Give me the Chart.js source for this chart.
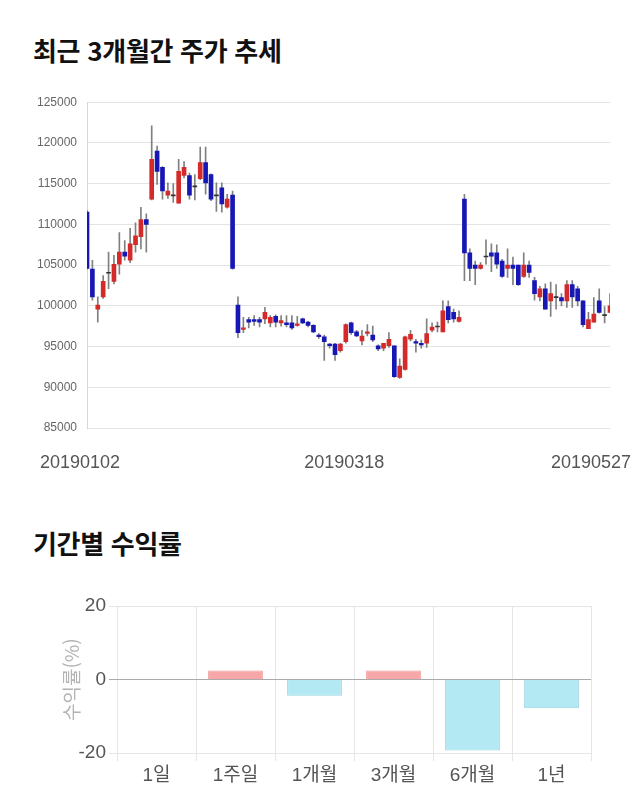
<!DOCTYPE html>
<html lang="ko">
<head>
<meta charset="utf-8">
<script src="https://cdn.jsdelivr.net/npm/chart.js@4/dist/chart.umd.min.js"></script>
<style>
  body { margin: 0; background: #fff; width: 640px; height: 810px; position: relative; overflow: hidden; }
  .title { position: absolute; left: 33px; font: bold 26px 'Noto Sans CJK KR', sans-serif; color: #111; line-height: 26px; letter-spacing: -0.3px; }
  .box { position: absolute; left: 0; width: 640px; }
</style>
</head>
<body>
<div class="title" style="top:37px">최근 3개월간 주가 추세</div>
<div class="box" style="top:85px;height:400px"><canvas id="price-chart"></canvas></div>
<div class="title" style="top:530px">기간별 수익률</div>
<div class="box" style="top:585px;height:215px"><canvas id="return-chart"></canvas></div>
<script>
const dates = [
  '20190102','20190103','20190104','20190107','20190108','20190109','20190110','20190111',
  '20190114','20190115','20190116','20190117','20190118','20190121','20190122','20190123',
  '20190124','20190125','20190128','20190129','20190130','20190131',
  '20190201','20190207','20190208','20190211','20190212','20190213','20190214','20190215',
  '20190218','20190219','20190220','20190221','20190222','20190225','20190226','20190227','20190228',
  '20190304','20190305','20190306','20190307','20190308','20190311','20190312','20190313',
  '20190314','20190315','20190318','20190319','20190320','20190321','20190322','20190325',
  '20190326','20190327','20190328','20190329',
  '20190401','20190402','20190403','20190404','20190405','20190408','20190409','20190410',
  '20190411','20190412','20190415','20190416','20190417','20190418','20190419','20190422',
  '20190423','20190424','20190425','20190426','20190429','20190430',
  '20190502','20190503','20190507','20190508','20190509','20190510','20190513','20190514',
  '20190515','20190516','20190517','20190520','20190521','20190522','20190523','20190524','20190527'
];
const opens = [
  111500,104500,99600,101100,104000,103000,105100,106600,105600,107500,108500,110600,
  113100,119000,117000,113600,113500,112600,116000,116000,114600,115600,
  117600,116100,113500,114500,112100,113600,100100,97100,98300,98300,98300,98400,
  97900,98700,97900,97900,97900,97600,98400,98000,97600,96400,96200,95300,95300,
  94500,95600,97900,96800,95700,96600,96400,95100,94800,95100,95100,91200,92200,
  95900,95600,95400,95400,97000,97400,96800,99900,99200,98100,113100,106500,105000,
  104600,106000,106500,106500,105500,104600,105000,105000,103600,105000,103100,101100,
  102100,100600,101000,101000,100600,102600,102100,100600,97200,98000,100600,98800,99200
];
const highs = [
  111700,105600,101100,103700,106600,106200,109000,108000,109500,110200,112100,111300,
  122100,119600,117100,115100,115000,118000,117700,116300,116100,119500,
  119500,116200,115100,115100,113700,114100,101100,98600,98600,98800,98600,99800,
  98800,98900,98800,98800,98800,98700,98500,98100,97700,96600,96400,95400,95400,
  95400,97800,98000,97000,97000,97700,97500,95200,95400,96700,95100,93500,96300,
  97000,95900,95800,98400,97900,98000,100600,100600,99600,99400,113700,107000,105500,
  105300,108100,107600,107500,105700,107000,106000,105000,106500,105500,103500,102400,
  102700,102900,102600,101500,103100,103100,102400,100600,99200,101000,102100,99900,101500
];
const lows = [
  104500,100700,98000,100900,102100,102700,103900,105600,105300,106600,107000,106600,
  113000,114900,113100,113200,112700,112600,115700,113100,113000,115500,
  113700,112900,111600,111500,112000,104500,96100,96700,97300,97600,97400,97800,
  97400,97400,97500,97400,97100,97500,97800,97400,96700,96000,93300,94800,93300,
  94300,95400,96500,96200,95200,96300,95600,94500,94500,94900,91200,91100,92100,
  95700,94300,94800,94900,96800,96800,96800,97900,98000,98000,103100,103100,102600,
  104500,105100,104200,104600,103500,103500,102600,102500,103500,103500,100700,100600,
  99600,98700,99600,100000,99800,99800,100000,97400,97200,98000,99100,97900,99200
];
const closes = [
  104600,101100,100100,103000,104000,105100,106600,106100,107600,108600,110600,110000,
  118000,116500,114100,114100,113500,116500,117000,113600,114600,117600,
  115100,113100,113500,112500,113100,104600,96700,97300,98000,98100,98000,99200,
  98600,98000,98200,97700,97300,97800,97900,97600,96800,96200,95600,95100,94000,
  95300,97700,96700,96300,96300,96800,95800,94700,95400,95900,91300,92600,96200,
  96500,95400,95200,96600,97400,97400,99400,98300,98400,98600,106500,104600,104600,
  105000,106000,106100,105100,103600,105000,104600,102600,105000,104100,101500,102100,
  99600,101500,101000,100600,102600,101100,100600,97700,98300,99000,99200,98800,100000
];
const dateTicks = ['20190102', '20190318', '20190527'];

const periods = ['1일', '1주일', '1개월', '3개월', '6개월', '1년'];
const returns = [0, 2.45, -4.36, 2.45, -19.3, -7.8];

const UP = '#d52a2a', DOWN = '#1717b5', FLAT = '#333';
const bodyColors = opens.map((o, i) => closes[i] > o ? UP : closes[i] < o ? DOWN : FLAT);

// date labels under the candles, last one kept inside the canvas
const dateLabels = {
  id: 'dateLabels',
  afterDraw(chart) {
    const { ctx, chartArea, scales: { x } } = chart;
    ctx.save();
    ctx.font = '18px "Liberation Sans", sans-serif';
    ctx.fillStyle = '#555';
    ctx.textBaseline = 'middle';
    ctx.textAlign = 'center';
    dateTicks.forEach(d => {
      const w = ctx.measureText(d).width;
      let px = x.getPixelForValue(dates.indexOf(d)) - 7;
      px = Math.min(px, chart.width - 9 - w / 2);
      ctx.fillText(d, px, chartArea.bottom + 35);
    });
    ctx.restore();
  }
};

new Chart(document.getElementById('price-chart'), {
  type: 'bar',
  data: {
    labels: dates,
    datasets: [{
      data: opens.map((o, i) => [o, closes[i]]),
      backgroundColor: bodyColors,
      barThickness: 4,
      minBarLength: 1,
      grouped: false
    }, {
      data: lows.map((l, i) => [l, highs[i]]),
      backgroundColor: '#808080',
      barThickness: 1,
      grouped: false
    }]
  },
  options: {
    responsive: true,
    maintainAspectRatio: false,
    animation: false,
    layout: { padding: { top: 13, right: 30, bottom: 49, left: 0 } },
    plugins: { legend: { display: false }, tooltip: { enabled: false } },
    scales: {
      x: {
        offset: false,
        grid: { display: false },
        border: { display: false },
        ticks: { display: false }
      },
      y: {
        min: 85000,
        max: 125000,
        afterFit: s => { s.width = 87; },
        grid: { color: '#e3e3e3', drawTicks: false },
        border: { display: true, color: '#d6d6d6' },
        ticks: {
          stepSize: 5000,
          padding: 10,
          color: '#666',
          font: { size: 12, family: '"Liberation Sans", sans-serif' },
          callback: v => v
        }
      }
    }
  },
  plugins: [dateLabels]
});

new Chart(document.getElementById('return-chart'), {
  type: 'bar',
  data: {
    labels: periods,
    datasets: [{
      data: returns,
      backgroundColor: returns.map(v => v >= 0 ? '#f7a7a7' : '#b2e9f3'),
      borderColor: returns.map(v => v >= 0 ? '#ee9494' : '#99d4df'),
      borderWidth: 1,
      barPercentage: 0.9,
      categoryPercentage: 0.77
    }]
  },
  options: {
    responsive: true,
    maintainAspectRatio: false,
    animation: false,
    layout: { padding: { top: 21, right: 49, bottom: 10, left: 56 } },
    plugins: { legend: { display: false }, tooltip: { enabled: false } },
    scales: {
      x: {
        grid: { color: '#e6e6e6' },
        border: { display: false },
        ticks: { color: '#555', font: { size: 19, family: '"Liberation Sans", "Noto Sans CJK KR", sans-serif' } }
      },
      y: {
        min: -20,
        max: 20,
        afterFit: s => { s.width = 61; },
        grid: { color: c => c.tick && c.tick.value === 0 ? '#aaa' : '#e6e6e6' },
        border: { display: false },
        title: {
          display: true,
          text: '수익률(%)',
          color: '#b3b3b3',
          font: { size: 19, family: '"Noto Sans CJK KR", sans-serif' }
        },
        ticks: {
          stepSize: 20,
          color: '#555',
          font: { size: 19, family: '"Liberation Sans", sans-serif' }
        }
      }
    }
  }
});
</script>
</body>
</html>
